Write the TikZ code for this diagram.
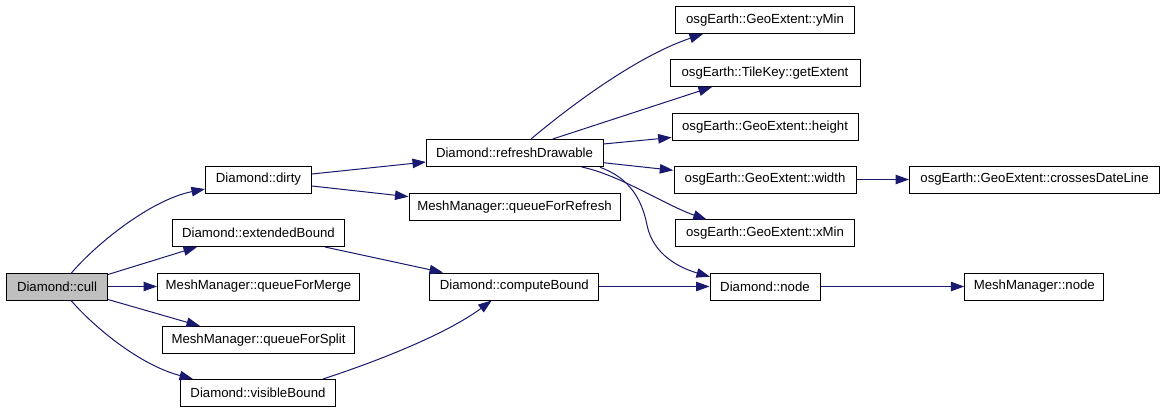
\documentclass[tikz,border=0pt]{standalone}
\usepackage{fontspec}
\setmainfont{Liberation Sans}
\usetikzlibrary{arrows.meta}
\definecolor{edgeblue}{HTML}{191970}
\definecolor{cullgrey}{HTML}{BFBFBF}
\begin{document}
\begin{tikzpicture}[x=1pt,y=-1pt,
  fn/.style={draw=black,line width=1pt,fill=white,minimum height=27pt,inner sep=0pt,
    font=\fontsize{13.2}{15}\selectfont,anchor=center},
  call/.style={draw=edgeblue,line width=1pt,-{Triangle[length=13.5pt,width=9.5pt,fill=edgeblue]}}]
\useasboundingbox (0,0) rectangle (1165,413);
\fill[white] (0,0) rectangle (1165,413);
% nodes
\node[fn,fill=cullgrey,minimum width=101pt] (cull) at (57,286.5) {Diamond::cull};
\node[fn,minimum width=106pt] (dirty) at (258.5,179.5) {Diamond::dirty};
\node[fn,minimum width=172pt] (eb) at (258.5,233) {Diamond::extendedBound};
\node[fn,minimum width=202pt] (merge) at (258.5,286.5) {MeshManager::queueForMerge};
\node[fn,minimum width=192pt] (split) at (258.5,340) {MeshManager::queueForSplit};
\node[fn,minimum width=155pt] (vis) at (258,393) {Diamond::visibleBound};
\node[fn,minimum width=177pt] (refresh) at (514.5,153) {Diamond::refreshDrawable};
\node[fn,minimum width=211pt] (qfr) at (514.5,206.7) {MeshManager::queueForRefresh};
\node[fn,minimum width=169pt] (cb) at (514.3,286.5) {Diamond::computeBound};
\node[fn,minimum width=179pt] (ymin) at (765,20) {osgEarth::GeoExtent::yMin};
\node[fn,minimum width=190pt] (ext) at (765,73.3) {osgEarth::TileKey::getExtent};
\node[fn,minimum width=186pt] (height) at (765,126.7) {osgEarth::GeoExtent::height};
\node[fn,minimum width=182pt] (width) at (765,179.5) {osgEarth::GeoExtent::width};
\node[fn,minimum width=179pt] (xmin) at (765,233.3) {osgEarth::GeoExtent::xMin};
\node[fn,minimum width=110pt] (dnode) at (765,286.5) {Diamond::node};
\node[fn,minimum width=250pt] (cdl) at (1034.5,179.5) {osgEarth::GeoExtent::crossesDateLine};
\node[fn,minimum width=139pt] (mnode) at (1034.3,286.5) {MeshManager::node};
% edges
\draw[call] ([shift={(14,-13)}]cull.center) .. controls (95,245) and (150,200) .. ([shift={(-53.5,9.5)}]dirty.center);
\draw[call] ([shift={(51,-12)}]cull.center) -- ([shift={(-61.5,14)}]eb.center);
\draw[call] (cull.east) -- (merge.west);
\draw[call] ([shift={(51,13)}]cull.center) -- ([shift={(-58.5,-14)}]split.center);
\draw[call] ([shift={(14,14)}]cull.center) .. controls (95,328) and (140,365) .. ([shift={(-65,-14)}]vis.center);
\draw[call] ([shift={(53.5,-5.5)}]dirty.center) -- ([shift={(-88.5,9)}]refresh.center);
\draw[call] ([shift={(53.5,6.5)}]dirty.center) -- ([shift={(-106,-10)}]qfr.center);
\draw[call] ([shift={(66.5,14)}]eb.center) -- ([shift={(-71.3,-14)}]cb.center);
\draw[call] ([shift={(65,-14)}]vis.center) .. controls (375,362) and (445,335) .. ([shift={(-22.6,14)}]cb.center);
\draw[call] ([shift={(16.5,-14)}]refresh.center) .. controls (575,102) and (640,55) .. ([shift={(-62,14)}]ymin.center);
\draw[call] ([shift={(38.2,-14)}]refresh.center) -- ([shift={(-53,13.7)}]ext.center);
\draw[call] ([shift={(88.8,-9)}]refresh.center) -- ([shift={(-93.3,10.8)}]height.center);
\draw[call] ([shift={(88.8,9.7)}]refresh.center) -- ([shift={(-91.7,-9.2)}]width.center);
\draw[call] ([shift={(67.2,14)}]refresh.center) .. controls (620,175) and (665,205) .. ([shift={(-58.3,-13.8)}]xmin.center);
\draw[call] ([shift={(85.5,14.3)}]refresh.center) .. controls (630,178) and (642,200) .. (647,225) .. controls (653,255) and (680,268) .. ([shift={(-55,-9.8)}]dnode.center);
\draw[call] (width.east) -- (cdl.west);
\draw[call] (cb.east) -- (dnode.west);
\draw[call] (dnode.east) -- (mnode.west);
\end{tikzpicture}
\end{document}
